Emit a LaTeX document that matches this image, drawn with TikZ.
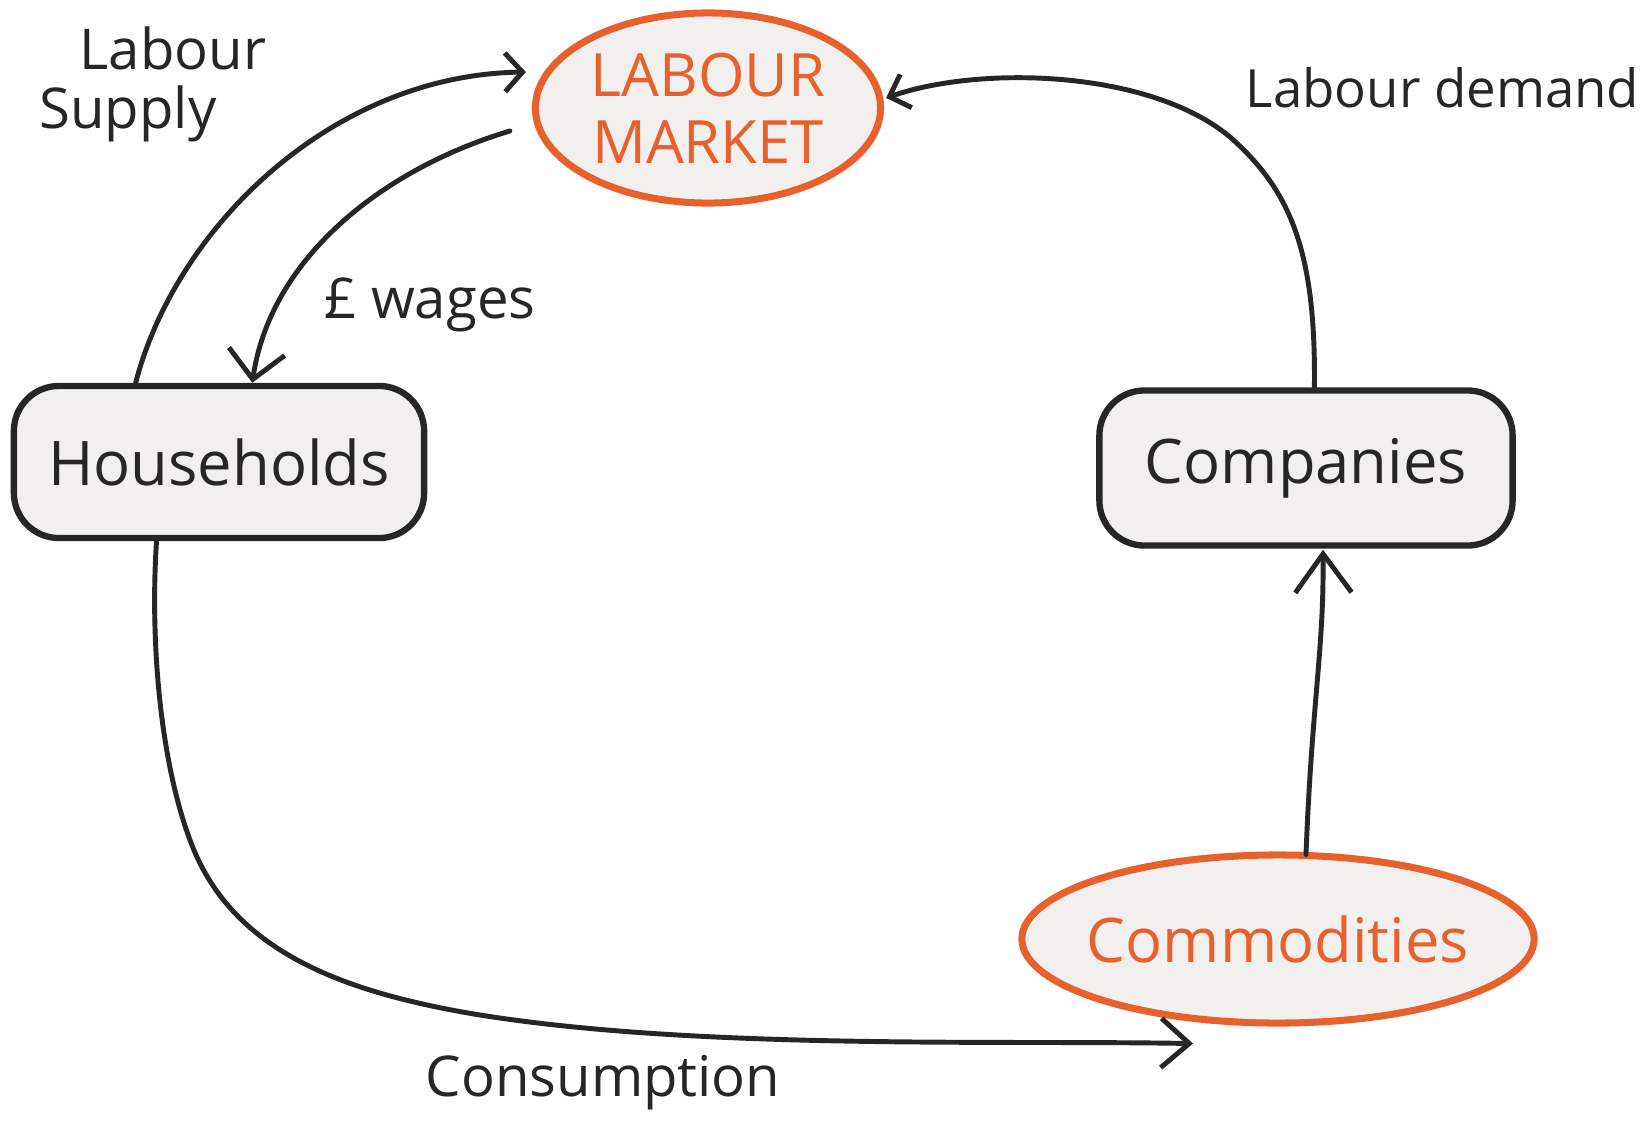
\documentclass[tikz,border=0pt]{standalone}
\usepackage{fontspec}
\setmainfont{Open Sans}
\usetikzlibrary{arrows.meta,shapes.geometric,calc}
\definecolor{ink}{HTML}{262626}
\definecolor{marker}{HTML}{E8602C}
\definecolor{paper}{HTML}{F2F0EF}

\begin{document}
\begin{tikzpicture}[x=0.01cm,y=-0.01cm,
  inkbox/.style={draw=ink, line width=1.8pt, fill=paper, rounded corners=0.45cm,
    minimum width=4.1cm, minimum height=1.52cm, text=ink,
    font=\fontsize{17.5}{21}\selectfont},
  markerell/.style={ellipse, draw=marker, line width=2pt, fill=paper,
    text=marker, inner sep=0pt},
  flow/.style={draw=ink, line width=1.4pt, line cap=round},
  lbl/.style={text=ink, inner sep=0pt, font=\fontsize{16}{19}\selectfont},
]
\fill[white] (0,0) rectangle (1645,1130);
\useasboundingbox (0,0) rectangle (1645,1130);

% the four stations of the cycle
\node[markerell, minimum width=3.45cm, minimum height=1.9cm, align=center,
      font=\fontsize{17}{19}\selectfont] (lm) at (708,108) {LABOUR\\MARKET};
\node[inkbox] (hh) at (219,462) {Households};
\node[inkbox, minimum width=4.13cm, minimum height=1.55cm] (co) at (1306,468) {Companies};
\node[markerell, minimum width=5.12cm, minimum height=1.68cm,
      font=\fontsize{17.5}{21}\selectfont] (cm) at (1278,939)
      {\makebox[0pt][c]{Commodities}};

% flow labels
\node[lbl] (ls1) at (173,48) {Labour};
\node[lbl] (ls2) at (128,114) {Supply};
\node[lbl, anchor=east, font=\fontsize{15}{18}\selectfont] (ld) at (1640,88) {Labour demand};
\node[lbl] (wg) at (430,305) {£ wages};
\node[lbl] (cs) at (603,1083) {Consumption};

% free end of the consumption arrow
\coordinate (cin) at ([shift={(-85,17)}]cm.south);

% labour supply: households -> labour market
\draw[flow, -{Straight Barb[length=5pt,width=11pt]}]
  ($(hh.north west)!0.3!(hh.north east)$)
  .. controls (175,230) and (330,75) .. ([shift={(-6,-36)}]lm.west);

% wages: labour market -> households
\draw[flow, -{Straight Barb[length=8pt,width=16pt]}]
  ([shift={(-22,23)}]lm.west)
  .. controls (380,170) and (270,260) .. ($(hh.north west)!0.58!(hh.north east)$);

% labour demand: companies -> labour market
\draw[flow, -{Straight Barb[length=5pt,width=10pt]}]
  ($(co.north west)!0.52!(co.north east)$)
  .. controls (1316,250) and (1290,190) .. (1230,137)
  .. controls (1150,70) and (980,65) .. ([shift={(2,-10)}]lm.east);

% commodities -> companies
\draw[flow, -{Straight Barb[length=11pt,width=16pt]}]
  ([shift={(28,3)}]cm.north)
  .. controls (1312,700) and (1324,650) .. ([shift={(17,1)}]co.south);

% consumption: households -> commodities
\draw[flow, -{Straight Barb[length=8pt,width=14pt]}]
  ($(hh.south west)!0.35!(hh.south east)$)
  .. controls (150,640) and (160,760) .. (190,840)
  .. controls (230,950) and (340,992) .. (480,1015)
  .. controls (700,1050) and (1000,1040) .. (cin);
\end{tikzpicture}
\end{document}
